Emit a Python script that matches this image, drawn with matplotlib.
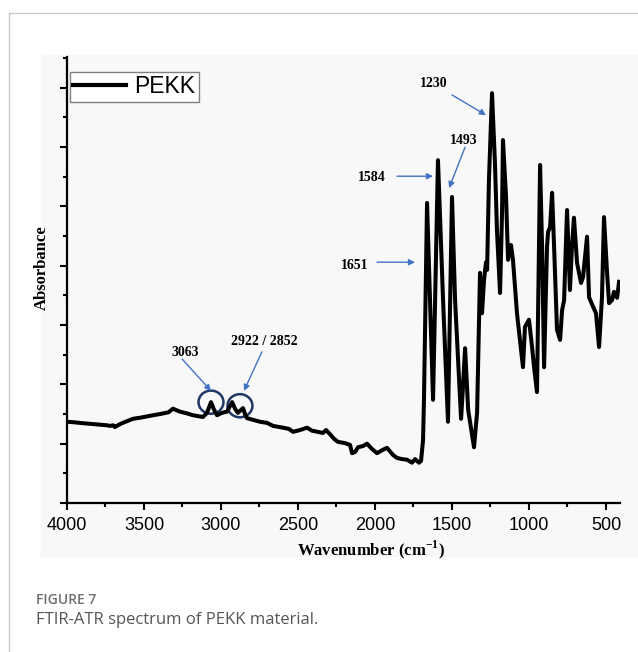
import matplotlib
matplotlib.use("Agg")
import matplotlib.pyplot as plt
from matplotlib.patches import Ellipse, Rectangle
from matplotlib.lines import Line2D
from matplotlib.ticker import MultipleLocator, NullFormatter

# spectrum (wavenumber in cm-1, absorbance in tick units)
wavenumber = [
    4000, 3950, 3916, 3870, 3818, 3780, 3740, 3721, 3700, 3690, 3656, 3620,
    3571, 3520, 3461, 3396, 3340, 3312, 3266, 3220, 3182, 3117,
    3091, 3065, 3045, 3026, 2993, 2961, 2928, 2909, 2890, 2870, 2857, 2844,
    2831, 2790, 2747, 2700, 2662, 2597, 2560, 2532, 2487, 2441, 2410, 2390,
    2338, 2318, 2292, 2265, 2240,
    2195, 2162, 2149, 2130, 2110, 2078, 2052, 2019, 1987, 1954, 1922, 1883,
    1857, 1825, 1792, 1760, 1740, 1714, 1701, 1688, 1682, 1672, 1662, 1643,
    1623, 1610, 1591, 1558, 1526, 1513, 1500, 1480, 1441, 1428, 1415, 1395,
    1357, 1337, 1318, 1305, 1292, 1279, 1272, 1260, 1240, 1221, 1208, 1188,
    1175, 1169, 1149, 1136, 1117, 1104, 1078, 1039, 1026, 1000, 980, 967,
    948, 941, 928, 915, 902, 883, 876, 863, 850, 837, 818, 798,
    785, 772, 753, 734, 721, 708, 688, 662, 649, 623, 610, 584,
    565, 545, 526, 513, 493, 480, 461, 448, 428, 415,
]
absorbance = [
    1.37, 1.36, 1.35, 1.34, 1.33, 1.32, 1.31, 1.30, 1.31, 1.28, 1.33, 1.37,
    1.42, 1.44, 1.47, 1.50, 1.53, 1.59, 1.54, 1.51, 1.48, 1.45,
    1.52, 1.70, 1.57, 1.48, 1.52, 1.54, 1.70, 1.59, 1.52, 1.57, 1.60, 1.50,
    1.43, 1.40, 1.37, 1.35, 1.30, 1.27, 1.25, 1.20, 1.23, 1.27, 1.22, 1.21,
    1.18, 1.23, 1.16, 1.08, 1.03,
    1.01, 0.98, 0.84, 0.86, 0.94, 0.96, 1.00, 0.91, 0.84, 0.89, 0.93, 0.81,
    0.76, 0.74, 0.73, 0.68, 0.74, 0.68, 0.71, 1.06, 1.74, 3.42, 5.06, 3.42,
    1.74, 3.40, 5.78, 3.42, 1.37, 3.30, 5.16, 3.42, 1.42, 1.99, 2.61, 1.57,
    0.94, 1.52, 3.88, 3.20, 3.76, 4.06, 3.93, 5.45, 6.91, 5.73, 4.60, 3.54,
    4.89, 6.12, 5.16, 4.10, 4.35, 4.10, 3.20, 2.29, 2.97, 3.09, 2.63, 2.29,
    1.87, 3.20, 5.70, 4.32, 2.29, 4.32, 4.57, 4.65, 5.23, 4.32, 2.92, 2.75,
    3.25, 3.42, 4.94, 3.59, 4.32, 4.81, 4.05, 3.71, 3.81, 4.49, 3.47, 3.31,
    3.20, 2.63, 3.47, 4.82, 3.88, 3.37, 3.42, 3.56, 3.46, 3.73,
]

peak_labels = ["1230", "1493", "1584", "1651", "3063", "2922 / 2852"]
label_pos = [(1617, 7.07), (1422, 6.12), (2019, 5.48), (2130, 4.01),
             (3234, 2.53), (2721, 2.73)]
arrow_tail = [(1500, 6.88), (1415, 6.00), (1857, 5.51), (1987, 4.06),
              (3253, 2.43), (2734, 2.55)]
arrow_head = [(1279, 6.54), (1519, 5.31), (1623, 5.51), (1740, 4.06),
              (3065, 1.89), (2851, 1.89)]
circle_centers = [(3065, 1.70), (2877, 1.64)]

plt.rcParams["mathtext.fontset"] = "custom"
plt.rcParams["mathtext.rm"] = "Liberation Serif"
plt.rcParams["mathtext.bf"] = "Liberation Serif:bold"

W, H = 638, 652
fig = plt.figure(figsize=(W / 100, H / 100), dpi=100)
fig.patch.set_facecolor("white")

# page frame and grey figure panel
fig.add_artist(Line2D([9 / W, 1], [1 - 13 / H, 1 - 13 / H], color="#c8c8c8", lw=1))
fig.add_artist(Line2D([9 / W, 9 / W], [0, 1 - 13 / H], color="#c8c8c8", lw=1))
fig.add_artist(Rectangle((41 / W, 1 - 556 / H), (W - 41) / W, 501 / H,
                         color="#f8f8f8", zorder=0, transform=fig.transFigure))

ax = fig.add_axes([67 / W, 1 - 503 / H, 553 / W, 446 / H])
ax.set_facecolor("none")
ax.plot(wavenumber, absorbance, color="black", lw=2.9, label="PEKK",
        solid_joinstyle="round")
ax.set_xlim(4000, 409)
ax.set_ylim(0, 7.52)

for side in ("top", "right"):
    ax.spines[side].set_visible(False)
for side in ("left", "bottom"):
    ax.spines[side].set_linewidth(1.6)

ax.xaxis.set_major_locator(MultipleLocator(500))
ax.xaxis.set_minor_locator(MultipleLocator(250))
ax.yaxis.set_major_locator(MultipleLocator(1))
ax.yaxis.set_minor_locator(MultipleLocator(0.5))
ax.yaxis.set_major_formatter(NullFormatter())
ax.tick_params(axis="both", which="major", direction="out", length=5, width=1.5)
ax.tick_params(axis="both", which="minor", direction="out", length=3, width=1.5)
ax.tick_params(axis="x", labelsize=13, pad=5)
for lab in ax.get_xticklabels():
    lab.set_fontfamily("Liberation Sans")

fig.text(371 / W, 1 - 550 / H, r"Wavenumber (cm$^{\mathbf{-1}}$)",
         fontsize=12, fontweight="bold", family="Liberation Serif",
         ha="center", va="center")
fig.text(42 / W, 1 - 268 / H, "Absorbance", fontsize=12, fontweight="bold",
         family="Liberation Serif", rotation=90, ha="center", va="center")

leg = ax.legend(loc="upper left", bbox_to_anchor=(70 / W, 1 - 72 / H),
                bbox_transform=fig.transFigure, borderaxespad=0,
                prop={"family": "Liberation Sans", "size": 16.5},
                handlelength=2.3, handletextpad=0.35, borderpad=0.15,
                fancybox=False, framealpha=1)
leg.get_frame().set_edgecolor("#808080")
leg.get_frame().set_linewidth(1.0)
leg.get_frame().set_facecolor("white")
leg.get_lines()[0].set_linewidth(3)

for text, pos in zip(peak_labels, label_pos):
    ax.text(pos[0], pos[1], text, fontsize=10, fontweight="bold",
            family="Liberation Serif", ha="center", va="center")
for tail, head in zip(arrow_tail, arrow_head):
    ax.annotate("", xy=head, xytext=tail,
                arrowprops=dict(arrowstyle="-|>", color="#4472c4", lw=1,
                                mutation_scale=9, shrinkA=0, shrinkB=0))
for c in circle_centers:
    ax.add_patch(Ellipse(c, 162, 0.39, fill=False, edgecolor="#1f3864", lw=1.8))

fig.text(36 / W, 1 - 600 / H, "FIGURE 7", fontsize=10, color="#6e6e6e",
         family="Open Sans", fontweight="semibold", va="center")
fig.text(36 / W, 1 - 620 / H, "FTIR-ATR spectrum of PEKK material.",
         fontsize=12, color="#555555", family="Open Sans", va="center")

fig.savefig("out.png", dpi=100)
